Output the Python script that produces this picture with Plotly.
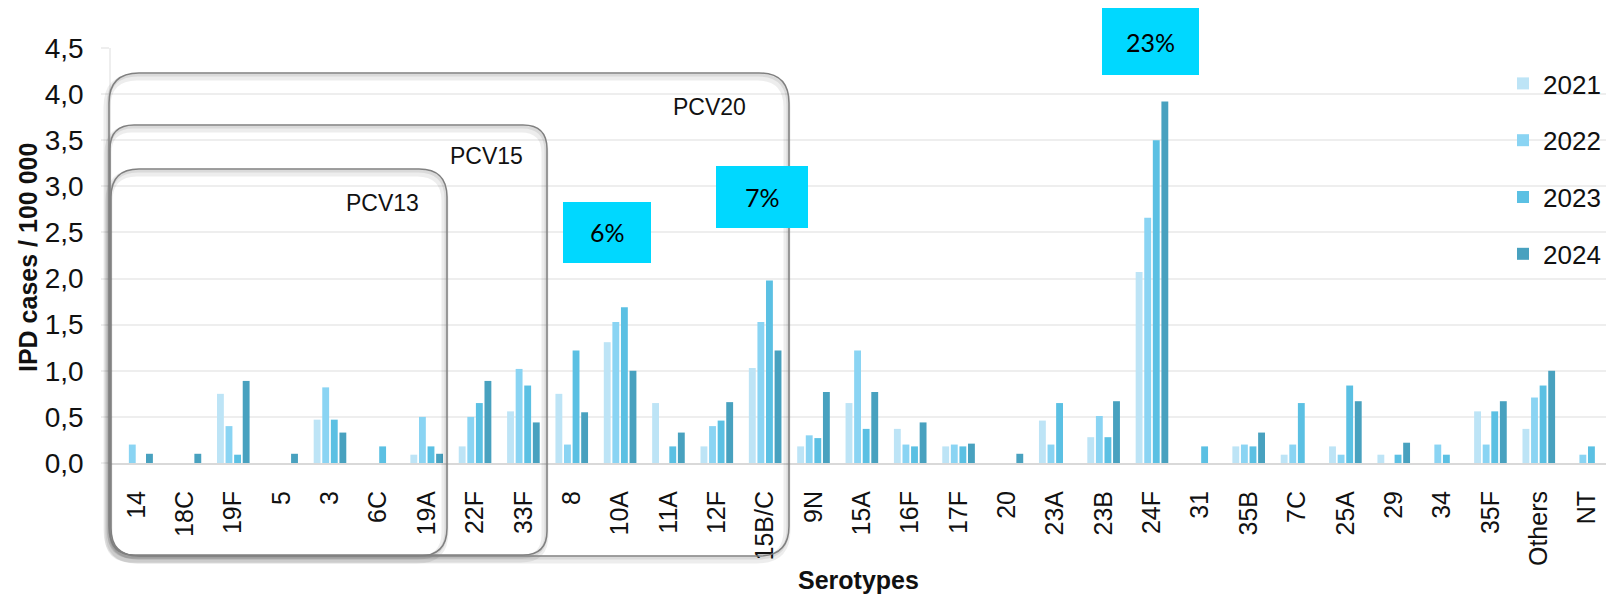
import plotly.graph_objects as go

categories = ["14", "18C", "19F", "5", "3", "6C", "19A", "22F", "33F", "8", "10A", "11A", "12F",
              "15B/C", "9N", "15A", "16F", "17F", "20", "23A", "23B", "24F", "31", "35B", "7C",
              "25A", "29", "34", "35F", "Others", "NT"]
years = ["2021", "2022", "2023", "2024"]
v2021 = [0, 0, 0.75, 0, 0.47, 0, 0.09, 0.18, 0.56, 0.75, 1.31, 0.65, 0.18, 1.03, 0.18, 0.65,
         0.37, 0.18, 0, 0.46, 0.28, 2.07, 0, 0.18, 0.09, 0.18, 0.09, 0, 0.56, 0.37, 0]
v2022 = [0.2, 0, 0.4, 0, 0.82, 0, 0.5, 0.5, 1.02, 0.2, 1.53, 0, 0.4, 1.53, 0.3, 1.22,
         0.2, 0.2, 0, 0.2, 0.51, 2.66, 0, 0.2, 0.2, 0.09, 0, 0.2, 0.2, 0.71, 0.09]
v2023 = [0, 0, 0.09, 0, 0.47, 0.18, 0.18, 0.65, 0.84, 1.22, 1.69, 0.18, 0.46, 1.98, 0.27, 0.37,
         0.18, 0.18, 0, 0.65, 0.28, 3.5, 0.18, 0.18, 0.65, 0.84, 0.09, 0.09, 0.56, 0.84, 0.18]
v2024 = [0.1, 0.1, 0.89, 0.1, 0.33, 0, 0.1, 0.89, 0.44, 0.55, 1.0, 0.33, 0.66, 1.22, 0.77, 0.77,
         0.44, 0.21, 0.1, 0, 0.67, 3.92, 0, 0.33, 0, 0.67, 0.22, 0, 0.67, 1.0, 0]
colors = ["#bde4f6", "#8ad4f3", "#5bc0e3", "#48a1bf"]

vaccine_labels = ["PCV20", "PCV15", "PCV13"]
share_labels = ["6%", "7%", "23%"]

W, H = 1606, 596
L, R, T, B = 111, 0, 48, 133
PW, PH = W - L - R, H - T - B

def px(x):
    return (x - L) / PW

def py(y):
    return (H - B - y) / PH

def rrect(x0, y0, x1, y1, r):
    pts = [
        f"M {px(x0 + r)},{py(y0)}",
        f"L {px(x1 - r)},{py(y0)}",
        f"Q {px(x1)},{py(y0)} {px(x1)},{py(y0 + r)}",
        f"L {px(x1)},{py(y1 - r)}",
        f"Q {px(x1)},{py(y1)} {px(x1 - r)},{py(y1)}",
        f"L {px(x0 + r)},{py(y1)}",
        f"Q {px(x0)},{py(y1)} {px(x0)},{py(y1 - r)}",
        f"L {px(x0)},{py(y0 + r)}",
        f"Q {px(x0)},{py(y0)} {px(x0 + r)},{py(y0)}",
        "Z",
    ]
    return " ".join(pts)

fig = go.Figure()
for name, vals, col in zip(years, [v2021, v2022, v2023, v2024], colors):
    fig.add_trace(go.Bar(x=categories, y=vals, name=name, marker_color=col,
                         marker_line_width=0, legendgroup=name))

FONT = "Liberation Sans, Arial, sans-serif"

shapes = []
boxes = [(109, 73, 789, 556, 30), (110, 125, 547, 555, 24), (111, 169, 447, 556, 28)]
for (x0, y0, x1, y1, r) in boxes:
    shapes.append(dict(type="path", xref="paper", yref="paper",
                       path=rrect(x0 - 2, y0 + 4, x1 - 2, y1 + 4, r),
                       line=dict(color="rgba(0,0,0,0.07)", width=7), layer="above"))
    shapes.append(dict(type="path", xref="paper", yref="paper",
                       path=rrect(x0 - 1, y0 + 2, x1 - 1, y1 + 2, r),
                       line=dict(color="rgba(0,0,0,0.08)", width=3), layer="above"))
for (x0, y0, x1, y1, r) in boxes:
    shapes.append(dict(type="path", xref="paper", yref="paper",
                       path=rrect(x0, y0, x1, y1, r),
                       line=dict(color="#808080", width=1.5), layer="above"))

cyan = [(563, 202, 651, 263), (716, 166, 808, 228), (1102, 8, 1199, 75)]
for (x0, y0, x1, y1) in cyan:
    shapes.append(dict(type="rect", xref="paper", yref="paper",
                       x0=px(x0), x1=px(x1), y0=py(y1), y1=py(y0),
                       fillcolor="#00d8ff", line_width=0, layer="above"))

annotations = []
for lab, (cx, cy) in zip(vaccine_labels, [(709, 107), (486, 156), (382, 203)]):
    annotations.append(dict(text=lab, x=px(cx), y=py(cy), xref="paper", yref="paper",
                            showarrow=False, font=dict(family=FONT, size=23, color="#111111"),
                            xanchor="center", yanchor="middle"))
for lab, (x0, y0, x1, y1) in zip(share_labels, cyan):
    annotations.append(dict(text=lab, x=px((x0 + x1) / 2), y=py((y0 + y1) / 2),
                            xref="paper", yref="paper", showarrow=False,
                            font=dict(family="Lato, Open Sans, sans-serif", size=25, color="#000000"),
                            xanchor="center", yanchor="middle"))
annotations.append(dict(text="<b>Serotypes</b>", x=px(859), y=py(580), xref="paper", yref="paper",
                        showarrow=False, font=dict(family=FONT, size=25, color="#111111"),
                        xanchor="center", yanchor="middle"))
annotations.append(dict(text="<b>IPD cases / 100 000</b>", x=px(28), y=py(258), xref="paper",
                        yref="paper", showarrow=False, textangle=-90,
                        font=dict(family=FONT, size=25, color="#111111"),
                        xanchor="center", yanchor="middle"))

fig.update_layout(
    width=W, height=H,
    margin=dict(l=L, r=R, t=T, b=B, pad=0),
    paper_bgcolor="white", plot_bgcolor="white",
    barmode="group", bargap=0.29, bargroupgap=0.2,
    separators=", ",
    font=dict(family=FONT, color="#111111"),
    shapes=shapes, annotations=annotations,
    legend=dict(x=px(1503), y=py(60), xanchor="left", yanchor="top",
                font=dict(family=FONT, size=26, color="#111111"),
                bgcolor="rgba(0,0,0,0)", traceorder="grouped", tracegroupgap=20,
                itemwidth=30),
    xaxis=dict(type="category", range=[-0.529, 30.39], showgrid=False,
               showline=True, linecolor="#d9d9d9", linewidth=2,
               tickangle=-90, tickfont=dict(family=FONT, size=25, color="#111111"),
               ticks="", ticklabelstandoff=16),
    yaxis=dict(range=[0, 4.5], dtick=0.5, tickformat=".1f", showgrid=True,
               gridcolor="#eeeeee", gridwidth=1.5, zeroline=False,
               showline=True, linecolor="#eeeeee", linewidth=1.5,
               ticks="outside", ticklen=8, tickcolor="#eeeeee", tickwidth=1.5,
               ticklabelstandoff=12,
               tickfont=dict(family=FONT, size=28, color="#111111")),
)

fig.write_html("out.html", config={"displayModeBar": False},
               post_script="document.body.style.margin='0px';document.body.style.overflow='hidden';")
